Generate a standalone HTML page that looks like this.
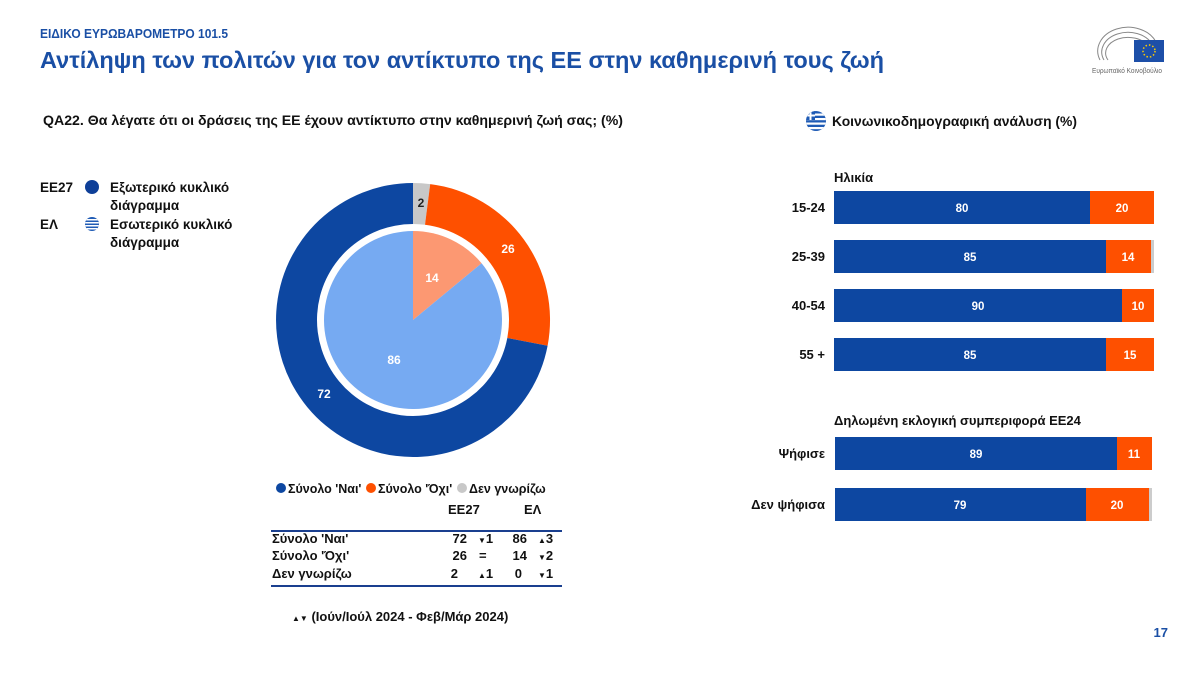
<!DOCTYPE html>
<html><head><meta charset="utf-8"><style>
html,body{margin:0;padding:0;background:#fff;}
svg{display:block;font-family:"Liberation Sans","Noto Sans CJK SC",sans-serif;}
</style></head><body>
<svg width="1200" height="676" viewBox="0 0 1200 676" xmlns="http://www.w3.org/2000/svg">
<rect width="1200" height="676" fill="#fff"/>
<text x="40" y="38" font-size="13" font-weight="bold" fill="#1a4fa5" textLength="188" lengthAdjust="spacingAndGlyphs">ΕΙΔΙΚΟ ΕΥΡΩΒΑΡΟΜΕΤΡΟ 101.5</text>
<text x="40" y="68" font-size="23" font-weight="bold" fill="#1a4fa5" textLength="844" lengthAdjust="spacingAndGlyphs">Αντίληψη των πολιτών για τον αντίκτυπο της ΕΕ στην καθημερινή τους ζωή</text>
<!-- logo -->
<g>
<path d="M1100 60 A28 22 0 0 1 1156 42" fill="none" stroke="#888" stroke-width="1"/>
<path d="M1104 60 A24 18 0 0 1 1152 44" fill="none" stroke="#888" stroke-width="1"/>
<path d="M1108 60 A20 14 0 0 1 1148 46" fill="none" stroke="#888" stroke-width="1"/>
<rect x="1134" y="40" width="30" height="22" fill="#1d4fa8"/>
<circle cx="1149" cy="51" r="6" fill="none" stroke="#fc0" stroke-width="1.5" stroke-dasharray="1.5 2"/>
<text x="1127" y="73" font-size="7" fill="#666" text-anchor="middle" textLength="70" lengthAdjust="spacingAndGlyphs">Ευρωπαϊκό Κοινοβούλιο</text>
</g>
<text x="43" y="125" font-size="13.5" font-weight="bold" fill="#111" textLength="580" lengthAdjust="spacingAndGlyphs">QA22. Θα λέγατε ότι οι δράσεις της ΕΕ έχουν αντίκτυπο στην καθημερινή ζωή σας; (%)</text>
<!-- greek flag icon -->
<g>
<clipPath id="fc"><circle cx="816" cy="121" r="10"/></clipPath>
<g clip-path="url(#fc)">
<rect x="806" y="111" width="20" height="20" fill="#1f5bb5"/>
<rect x="806" y="113.5" width="20" height="2.2" fill="#fff"/><rect x="806" y="118" width="20" height="2.2" fill="#fff"/><rect x="806" y="122.5" width="20" height="2.2" fill="#fff"/><rect x="806" y="127" width="20" height="2.2" fill="#fff"/>
<rect x="806" y="111" width="9" height="9" fill="#1f5bb5"/><rect x="806" y="114.5" width="9" height="2" fill="#fff"/><rect x="809.5" y="111" width="2" height="9" fill="#fff"/>
</g></g>
<text x="832" y="126" font-size="13.5" font-weight="bold" fill="#111" textLength="245" lengthAdjust="spacingAndGlyphs">Κοινωνικοδημογραφική ανάλυση (%)</text>

<!-- legend left -->
<g font-size="13.5" font-weight="bold" fill="#111">
<text x="40" y="192">ΕΕ27</text>
<circle cx="92" cy="187" r="7" fill="#0e3f98"/>
<text x="110" y="192">Εξωτερικό κυκλικό</text>
<text x="110" y="210">διάγραμμα</text>
<text x="40" y="229">ΕΛ</text>
<g>
<clipPath id="fc2"><circle cx="92" cy="224" r="7"/></clipPath>
<g clip-path="url(#fc2)"><rect x="85" y="217" width="14" height="14" fill="#1f5bb5"/>
<rect x="85" y="219" width="14" height="1.5" fill="#fff"/><rect x="85" y="222" width="14" height="1.5" fill="#fff"/><rect x="85" y="225" width="14" height="1.5" fill="#fff"/><rect x="85" y="228" width="14" height="1.5" fill="#fff"/></g></g>
<text x="110" y="229">Εσωτερικό κυκλικό</text>
<text x="110" y="247">διάγραμμα</text>
</g>

<!-- donut -->
<path d="M413 183 A137 137 0 0 1 430.2 184.1 L425 224.8 A96 96 0 0 0 413 224 Z" fill="#c8c8c8"/>
<path d="M430.2 184.1 A137 137 0 0 1 547.6 345.7 L507.3 338 A96 96 0 0 0 425 224.8 Z" fill="#fe5000"/>
<path d="M547.6 345.7 A137 137 0 1 1 413 183 L413 224 A96 96 0 1 0 507.3 338 Z" fill="#0d47a1"/>
<path d="M413 320 L413 231 A89 89 0 0 1 481.6 263.3 Z" fill="#fc9872"/>
<path d="M413 320 L481.6 263.3 A89 89 0 1 1 413 231 Z" fill="#76aaf2"/>
<g font-size="12" font-weight="bold" fill="#fff" text-anchor="middle">
<text x="421" y="207" fill="#222">2</text>
<text x="508" y="253">26</text>
<text x="432" y="282">14</text>
<text x="394" y="364">86</text>
<text x="324" y="398">72</text>
</g>

<!-- legend bottom -->
<g font-size="12.5" font-weight="bold" fill="#111">
<circle cx="281" cy="488" r="5" fill="#0d47a1"/><text x="288" y="493">Σύνολο 'Ναι'</text>
<circle cx="371" cy="488" r="5" fill="#fe5000"/><text x="378" y="493">Σύνολο 'Όχι'</text>
<circle cx="462" cy="488" r="5" fill="#c8c8c8"/><text x="469" y="493">Δεν γνωρίζω</text>
</g>
<g font-size="13" font-weight="bold" fill="#111">
<text x="448" y="514">ΕΕ27</text><text x="524" y="514">ΕΛ</text>
<line x1="271" y1="531" x2="562" y2="531" stroke="#1a3f8f" stroke-width="2"/>
<text x="272" y="543">Σύνολο 'Ναι'</text>
<text x="272" y="560">Σύνολο 'Όχι'</text>
<text x="272" y="578">Δεν γνωρίζω</text>
<g text-anchor="end">
<text x="467" y="543">72</text><text x="467" y="560">26</text><text x="458" y="578">2</text>
<text x="527" y="543">86</text><text x="527" y="560">14</text><text x="522" y="578">0</text>
</g>
<text x="478" y="543"><tspan font-size="8">▼</tspan>1</text>
<text x="479" y="560">=</text>
<text x="478" y="578"><tspan font-size="8">▲</tspan>1</text>
<text x="538" y="543"><tspan font-size="8">▲</tspan>3</text>
<text x="538" y="560"><tspan font-size="8">▼</tspan>2</text>
<text x="538" y="578"><tspan font-size="8">▼</tspan>1</text>
<line x1="271" y1="586" x2="562" y2="586" stroke="#1a3f8f" stroke-width="2"/>
<text x="292" y="621"><tspan font-size="8">▲▼</tspan> (Ιούν/Ιούλ 2024 - Φεβ/Μάρ 2024)</text>
</g>

<!-- right bars -->
<g font-size="13" font-weight="bold" fill="#111">
<text x="834" y="182">Ηλικία</text>
<text x="834" y="425">Δηλωμένη εκλογική συμπεριφορά ΕΕ24</text>
<g text-anchor="end">
<text x="825" y="212">15-24</text>
<text x="825" y="261">25-39</text>
<text x="825" y="310">40-54</text>
<text x="825" y="359">55 +</text>
<text x="825" y="458">Ψήφισε</text>
<text x="825" y="509">Δεν ψήφισα</text>
</g>
</g>
<g font-size="11.5" font-weight="bold" fill="#fff" text-anchor="middle">
<rect x="834" y="191" width="256" height="33" fill="#0d47a1"/><rect x="1090" y="191" width="64" height="33" fill="#fe5000"/>
<text x="962" y="212">80</text><text x="1122" y="212">20</text>
<rect x="834" y="240" width="272" height="33" fill="#0d47a1"/><rect x="1106" y="240" width="45" height="33" fill="#fe5000"/><rect x="1151" y="240" width="3" height="33" fill="#ccc"/>
<text x="970" y="261">85</text><text x="1128" y="261">14</text>
<rect x="834" y="289" width="288" height="33" fill="#0d47a1"/><rect x="1122" y="289" width="32" height="33" fill="#fe5000"/>
<text x="978" y="310">90</text><text x="1138" y="310">10</text>
<rect x="834" y="338" width="272" height="33" fill="#0d47a1"/><rect x="1106" y="338" width="48" height="33" fill="#fe5000"/>
<text x="970" y="359">85</text><text x="1130" y="359">15</text>
<rect x="835" y="437" width="282" height="33" fill="#0d47a1"/><rect x="1117" y="437" width="35" height="33" fill="#fe5000"/>
<text x="976" y="458">89</text><text x="1134" y="458">11</text>
<rect x="835" y="488" width="251" height="33" fill="#0d47a1"/><rect x="1086" y="488" width="63" height="33" fill="#fe5000"/><rect x="1149" y="488" width="3" height="33" fill="#ccc"/>
<text x="960" y="509">79</text><text x="1117" y="509">20</text>
</g>
<text x="1168" y="637" font-size="13" font-weight="bold" fill="#1a4fa5" text-anchor="end">17</text>
</svg>
</body></html>
